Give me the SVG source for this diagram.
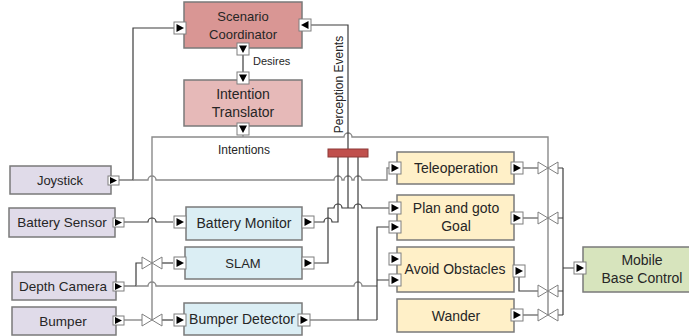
<svg xmlns="http://www.w3.org/2000/svg" width="689" height="336" viewBox="0 0 689 336">
<style>
.box{stroke:#7a7a7a;stroke-width:1.5}
.t{font-family:"Liberation Sans",Arial,sans-serif;font-size:14px;fill:#262626;text-anchor:middle}
.s{font-family:"Liberation Sans",Arial,sans-serif;font-size:12px;fill:#262626}
.port{fill:#fff;stroke:#7f7f7f;stroke-width:1}
.tri{fill:#000}
.w{fill:none;stroke:#3c3c3c;stroke-width:1.2}
.g{fill:none;stroke:#8a8a8a;stroke-width:1.4}
.valve{fill:#fff;stroke:#7f7f7f;stroke-width:1}
</style>
<defs>
<g id="pr"><rect class="port" x="0" y="0" width="12" height="12"/><path class="tri" d="M2.5,2 L2.5,10 L10,6 Z"/></g>
<g id="pl"><rect class="port" x="0" y="0" width="12" height="12"/><path class="tri" d="M9.5,2 L9.5,10 L2,6 Z"/></g>
<g id="pd"><rect class="port" x="0" y="0" width="12" height="12"/><path class="tri" d="M2,2.5 L10,2.5 L6,10 Z"/></g>
<g id="ps"><rect class="port" x="0" y="0" width="11" height="9"/><path class="tri" d="M2,1 L2,8 L9,4.5 Z"/></g>
<path id="valve" class="valve" d="M-10,-6 L-10,6 L0,0 Z M10,-6 L10,6 L0,0 Z"/>
</defs>

<g id="connectors">
<path class="w" d="M119,180 H133 V28 H174"/>
<path class="g" d="M133,180 H148 A4,4 0 0 1 156,180 H334 A4,4 0 0 1 342,180 H344 A4,4 0 0 1 352,180 H354 A4,4 0 0 1 362,180 H387 V168 H389"/>
<path class="w" d="M243,55 V72"/>
<path class="g" d="M243,135 V137"/>
<path class="g" d="M152,320 V137 H344 A4,4 0 0 1 352,137 H548 V315"/>
<path class="w" d="M124,222 H148 A4,4 0 0 1 156,222 H173"/>
<path class="w" d="M314,222 H324 A4,4 0 0 1 332,222 H338 V157"/>
<path class="w" d="M314,263 H328 V208 H334 A4,4 0 0 1 342,208 H354 A4,4 0 0 1 362,208 H389"/>
<path class="w" d="M348,157 V208"/>
<path class="w" d="M124,286 H136 V263 H142"/>
<path class="g" d="M136,286 H148 A4,4 0 0 1 156,286 H354 A4,4 0 0 1 362,286 H377"/>
<path class="w" d="M162,263 H173"/>
<path class="g" d="M124,320 H142"/>
<path class="w" d="M162,320 H173"/>
<path class="g" d="M310,320 H377"/>
<path class="w" d="M377,320 V227 H389 M377,280 H389"/>
<path class="w" d="M358,157 V320"/>
<path class="w" d="M348,149 V25 H311"/>
<path class="w" d="M523,168 H538 M558,168 H563 M523,218 H538 M558,218 H563 M519,277 V291 H538 M558,291 H563 M523,315 H538 M558,315 H563 M563,168 V315 M563,268 H574"/>
<use href="#valve" x="152" y="263"/>
<use href="#valve" x="152" y="320"/>
<use href="#valve" x="548" y="168"/>
<use href="#valve" x="548" y="218"/>
<use href="#valve" x="548" y="291"/>
<use href="#valve" x="548" y="315"/>
</g>

<g id="scenario-coordinator">
<rect class="box" x="184" y="2" width="118" height="46" fill="#d99694"/>
<text class="t" x="243" y="21" style="font-size:13px">Scenario</text>
<text class="t" x="243" y="39" style="font-size:13px">Coordinator</text>
<use href="#pr" x="174" y="22"/>
<use href="#pl" x="299" y="19"/>
<use href="#pd" x="237" y="43"/>
</g>
<text class="s" x="253" y="65" style="font-size:11px">Desires</text>

<g id="intention-translator">
<rect class="box" x="184" y="80" width="118" height="46" fill="#e6b9b8"/>
<text class="t" x="243" y="99">Intention</text>
<text class="t" x="243" y="117">Translator</text>
<use href="#pd" x="237" y="72"/>
<use href="#pd" x="237" y="123"/>
</g>
<text class="s" x="244" y="154" text-anchor="middle">Intentions</text>

<g id="perception-events">
<rect x="328" y="149" width="40" height="8" fill="#c0504d" stroke="#8c3836" stroke-width="1"/>
<text class="s" transform="translate(343,84.5) rotate(-90)" text-anchor="middle">Perception Events</text>
</g>

<g id="joystick">
<rect class="box" x="10" y="166" width="101" height="28" fill="#e0dbe9"/>
<text class="t" x="60" y="185" style="font-size:13px">Joystick</text>
<use href="#ps" x="108" y="176"/>
</g>
<g id="battery-sensor">
<rect class="box" x="9" y="208" width="106" height="29" fill="#e0dbe9"/>
<text class="t" x="62" y="227" style="font-size:13.5px">Battery Sensor</text>
<use href="#ps" x="113" y="218"/>
</g>
<g id="depth-camera">
<rect class="box" x="12" y="272" width="104" height="28" fill="#e0dbe9"/>
<text class="t" x="63" y="291" style="font-size:13.5px">Depth Camera</text>
<use href="#ps" x="113" y="282"/>
</g>
<g id="bumper">
<rect class="box" x="12" y="307" width="104" height="28" fill="#e0dbe9"/>
<text class="t" x="63" y="326" style="font-size:13.5px">Bumper</text>
<use href="#ps" x="113" y="316"/>
</g>

<g id="battery-monitor">
<rect class="box" x="186" y="207" width="116" height="33" fill="#dbeef4"/>
<text class="t" x="244" y="228">Battery Monitor</text>
<use href="#pr" x="174" y="216"/>
<use href="#pr" x="302" y="216"/>
</g>
<g id="slam">
<rect class="box" x="185" y="247" width="117" height="32" fill="#dbeef4"/>
<text class="t" x="243" y="268" style="font-size:13px">SLAM</text>
<use href="#pr" x="174" y="257"/>
<use href="#pr" x="302" y="257"/>
</g>
<g id="bumper-detector">
<rect class="box" x="184" y="303" width="118" height="32" fill="#dbeef4"/>
<text class="t" x="242" y="324">Bumper Detector</text>
<use href="#pr" x="174" y="314"/>
<use href="#pr" x="298" y="314"/>
</g>

<g id="teleoperation">
<rect class="box" x="397" y="152" width="117" height="32" fill="#fff0c8"/>
<text class="t" x="456" y="173">Teleoperation</text>
<use href="#pr" x="389" y="162"/>
<use href="#pr" x="511" y="162"/>
</g>
<g id="plan-and-goto-goal">
<rect class="box" x="397" y="195" width="117" height="45" fill="#fff0c8"/>
<text class="t" x="456" y="213">Plan and goto</text>
<text class="t" x="456" y="231">Goal</text>
<use href="#pr" x="389" y="202"/>
<use href="#pr" x="389" y="221"/>
<use href="#pr" x="511" y="212"/>
</g>
<g id="avoid-obstacles">
<rect class="box" x="397" y="247" width="117" height="45" fill="#fff0c8"/>
<text class="t" x="455" y="274">Avoid Obstacles</text>
<use href="#pr" x="389" y="253"/>
<use href="#pr" x="389" y="274"/>
<use href="#pr" x="513" y="265"/>
</g>
<g id="wander">
<rect class="box" x="397" y="299" width="117" height="33" fill="#fff0c8"/>
<text class="t" x="456" y="321">Wander</text>
<use href="#pr" x="511" y="309"/>
</g>

<g id="mobile-base-control">
<rect class="box" x="583" y="247" width="118" height="45" fill="#d7e4bd"/>
<text class="t" x="642" y="265">Mobile</text>
<text class="t" x="642" y="283">Base Control</text>
<use href="#pr" x="574" y="262"/>
</g>
</svg>
